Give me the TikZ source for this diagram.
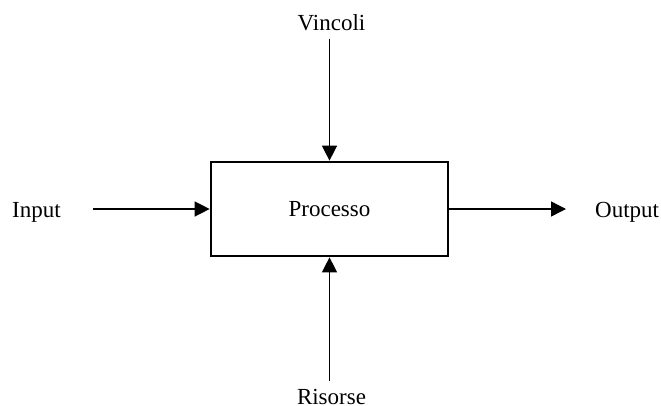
\documentclass[tikz,border=0pt]{standalone}
\usepackage{fontspec}
\setmainfont{Liberation Serif}
\usetikzlibrary{arrows.meta}
\begin{document}
\begin{tikzpicture}[x=1pt,y=-1pt,
  lbl/.style={inner sep=0pt,font=\fontsize{23}{27}\selectfont},
  proc/.style={draw,line width=2.7pt,minimum width=237pt,minimum height=94pt,inner sep=0pt,font=\fontsize{23}{27}\selectfont},
  arr/.style={line width=1.4pt,-{Triangle[length=15pt,width=15pt]}}]
\useasboundingbox (0,0) rectangle (661,405);
\node[proc] (box) at (329.5,209) {Processo};
\node[lbl,anchor=base] (vin) at (331.5,30) {Vincoli};
\node[lbl,anchor=base] (ris) at (331.5,404) {Risorse};
\node[lbl,anchor=base west] (inp) at (12,217) {Input};
\node[lbl,anchor=base west] (out) at (595,217) {Output};
\draw[arr,shorten <=8pt] (vin.south -| box.north) -- (box.north);
\draw[arr,shorten <=7.5pt] (ris.north -| box.south) -- (box.south);
\draw[arr,shorten <=32pt] (inp.east |- box.west) -- (box.west);
\draw[arr,shorten >=29pt] (box.east) -- (out.west |- box.east);
\end{tikzpicture}
\end{document}
